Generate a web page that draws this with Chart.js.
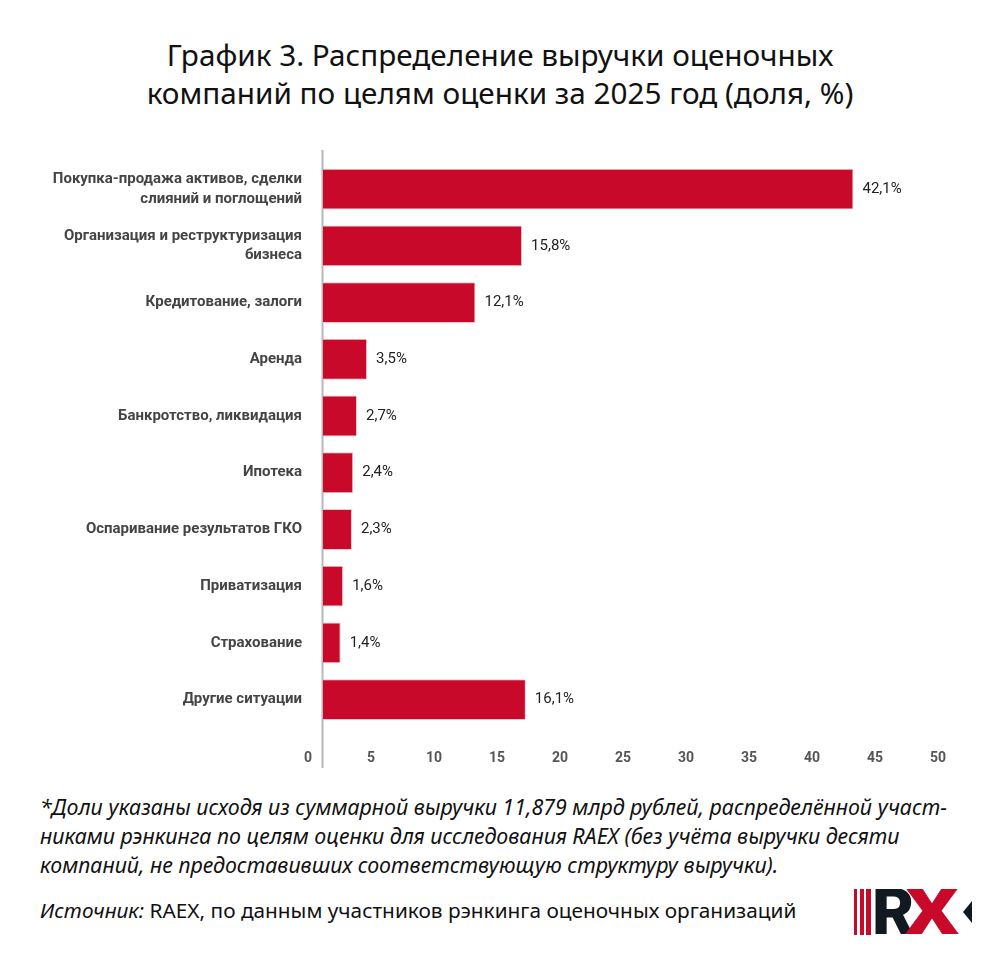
<!DOCTYPE html>
<html>
<head>
<meta charset="utf-8">
<script src="https://cdn.jsdelivr.net/npm/chart.js@4.4.1/dist/chart.umd.min.js"></script>
<style>
  html, body { margin: 0; padding: 0; background: #fff; }
  body { width: 1000px; height: 960px; position: relative; overflow: hidden; font-family: "Noto Sans", sans-serif; }
  #title { position: absolute; top: 36px; left: 0; width: 1000px; text-align: center; font-size: 29.7px; line-height: 38px; color: #111; white-space: nowrap; }
  #wrap { position: absolute; top: 130px; left: 0; width: 1000px; height: 650px; }
  #note { position: absolute; top: 792px; left: 40px; font-size: 21.4px; line-height: 29px; font-style: italic; color: #111; white-space: nowrap; }
  #source { position: absolute; top: 896px; left: 40px; font-size: 20.8px; color: #111; white-space: nowrap; }
  #source i { font-style: italic; }
  #logo { position: absolute; left: 854px; top: 889px; width: 118px; height: 46px; overflow: hidden; }
  #logo .s { position: absolute; top: 0; height: 46px; background: #c8092a; }
  #logo .r, #logo .x { position: absolute; top: -9px; font: 900 65px/65px Roboto, sans-serif; }
  #logo .r { left: 18px; color: #111a20; }
  #logo .x { left: 51px; color: #c8092a; transform: scaleX(1.3); transform-origin: 0 0; }
  #logo .t { position: absolute; right: 0; top: 12px; width: 0; height: 0; border-top: 11px solid transparent; border-bottom: 11px solid transparent; border-right: 9px solid #111a20; }
</style>
</head>
<body>
<div id="title">График 3. Распределение выручки оценочных<br>компаний по целям оценки за 2025 год (доля, %)</div>
<div id="wrap"><canvas id="chart"></canvas></div>
<div id="note">*Доли указаны исходя из суммарной выручки 11,879 млрд рублей, распределённой участ-<br>никами рэнкинга по целям оценки для исследования RAEX (без учёта выручки десяти<br>компаний, не предоставивших соответствующую структуру выручки).</div>
<div id="source"><i>Источник:</i> RAEX, по данным участников рэнкинга оценочных организаций</div>
<div id="logo">
  <div class="s" style="left:0;width:3px"></div>
  <div class="s" style="left:6px;width:4px"></div>
  <div class="s" style="left:12px;width:5px"></div>
  <div class="r">R</div>
  <div class="x">X</div>
  <div class="t"></div>
</div>
<script>
const categories = [
  ["Покупка-продажа активов, сделки", "слияний и поглощений"],
  ["Организация и реструктуризация", "бизнеса"],
  "Кредитование, залоги",
  "Аренда",
  "Банкротство, ликвидация",
  "Ипотека",
  "Оспаривание результатов ГКО",
  "Приватизация",
  "Страхование",
  "Другие ситуации"
];
const shares = [42.1, 15.8, 12.1, 3.5, 2.7, 2.4, 2.3, 1.6, 1.4, 16.1];
const xTicks = [0, 5, 10, 15, 20, 25, 30, 35, 40, 45, 50];

const barLabels = {
  id: "barLabels",
  afterDatasetsDraw(chart) {
    const ctx = chart.ctx;
    const meta = chart.getDatasetMeta(0);
    ctx.save();
    ctx.font = "15px Roboto";
    ctx.fillStyle = "#222";
    ctx.textAlign = "left";
    ctx.textBaseline = "middle";
    meta.data.forEach((bar, i) => {
      ctx.fillText(shares[i].toFixed(1).replace(".", ",") + "%", bar.x + 9, bar.y);
    });
    ctx.restore();
  }
};

const axisLine = {
  id: "axisLine",
  beforeDatasetsDraw(chart) {
    const ctx = chart.ctx;
    const x = Math.round(chart.scales.x.getPixelForValue(0)) - 0.5;
    ctx.save();
    ctx.strokeStyle = "#b8b8b8";
    ctx.lineWidth = 2;
    ctx.beginPath();
    ctx.moveTo(x, 20);
    ctx.lineTo(x, 638);
    ctx.stroke();
    ctx.restore();
  }
};

new Chart(document.getElementById("chart").getContext("2d"), {
  type: "bar",
  data: {
    labels: categories,
    datasets: [{
      data: shares,
      backgroundColor: "#c8092a",
      borderColor: "#f2c6cc",
      borderWidth: 1,
      barPercentage: 0.72,
      categoryPercentage: 1
    }]
  },
  options: {
    indexAxis: "y",
    responsive: true,
    maintainAspectRatio: false,
    animation: false,
    layout: { padding: { top: 28, bottom: 2, left: 0, right: 47 } },
    plugins: { legend: { display: false }, tooltip: { enabled: false } },
    scales: {
      x: {
        min: 0,
        max: 50,
        afterBuildTicks: (s) => { s.ticks = xTicks.map(v => ({ value: v })); },
        afterFit: (s) => { s.height = 50; },
        grid: { display: false, drawTicks: false },
        border: { display: false },
        ticks: { labelOffset: -15, padding: 22, color: "#555", font: { family: "Roboto", size: 14, weight: "bold" } }
      },
      y: {
        afterFit: (s) => { s.width = 323; },
        grid: { display: false, drawTicks: false },
        border: { display: false },
        ticks: { padding: 21, color: "#444", font: { family: "Roboto", size: 15, weight: "bold", lineHeight: 1.3 } }
      }
    }
  },
  plugins: [axisLine, barLabels]
});
</script>
</body>
</html>
